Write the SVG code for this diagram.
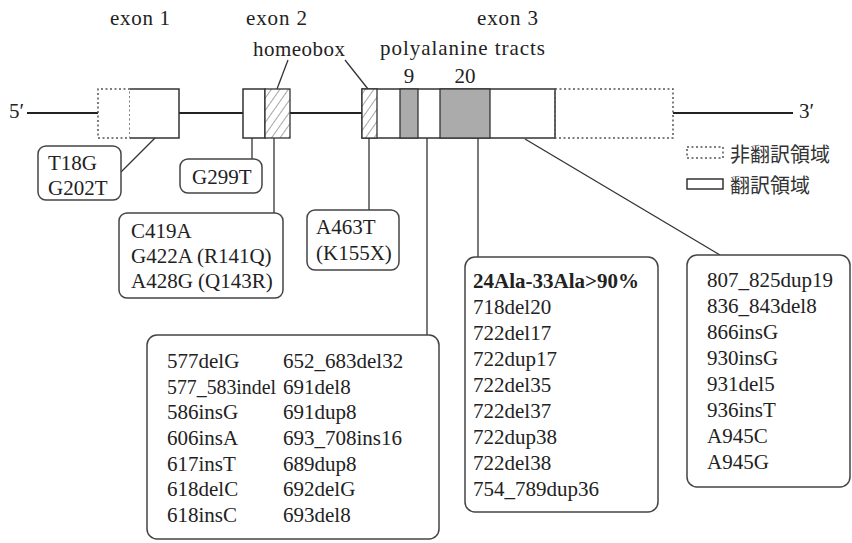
<svg xmlns="http://www.w3.org/2000/svg" width="852" height="543" viewBox="0 0 852 543">
<style>
text{font-family:"Liberation Serif","Noto Sans CJK JP",serif;fill:#222}
.lbl{font-size:21px}
.bt{font-size:21px}
.jp{font-family:"Noto Sans CJK JP",sans-serif;font-size:20px;fill:#333}
.box{fill:#fff;stroke:#444;stroke-width:1.5}
.sol{fill:#fff;stroke:#333;stroke-width:1.5}
.dot{fill:none;stroke:#555;stroke-width:1.5;stroke-dasharray:2 2.5}
.ln{stroke:#333;stroke-width:1.3;fill:none}
.axis{stroke:#222;stroke-width:2.2}
.grey{fill:#ababab;stroke:#333;stroke-width:1.3}
.hat{fill:url(#hatch);stroke:#333;stroke-width:1.3}
</style>
<defs>
<pattern id="hatch" patternUnits="userSpaceOnUse" width="7" height="7" patternTransform="rotate(35)">
<rect width="7" height="7" fill="#fff"/>
<line x1="0" y1="0" x2="0" y2="7" stroke="#777" stroke-width="1.3"/>
</pattern>
</defs>

<g id="gene">
<line class="axis" x1="27" y1="113" x2="98" y2="113"/>
<line class="axis" x1="179" y1="113" x2="243" y2="113"/>
<line class="axis" x1="290" y1="113" x2="362" y2="113"/>
<line class="axis" x1="673" y1="113" x2="793" y2="113"/>
<text class="lbl" x="9" y="118">5′</text>
<text class="lbl" x="799" y="118">3′</text>
</g>

<g id="exon1">
<path class="dot" d="M130 89 H98 V138 H130 V89"/>
<path class="sol" d="M130 89 H179 V138 H130" />
<text class="lbl" x="110" y="25" textLength="60" lengthAdjust="spacing">exon 1</text>
</g>

<g id="exon2">
<rect class="sol" x="243" y="89" width="22" height="49"/>
<rect class="hat" x="265" y="89" width="25" height="49"/>
<text class="lbl" x="246" y="25" textLength="61" lengthAdjust="spacing">exon 2</text>
</g>

<g id="homeobox">
<text class="lbl" x="253" y="56" textLength="92" lengthAdjust="spacing">homeobox</text>
</g>

<g id="exon3">
<rect class="sol" x="362" y="89" width="193" height="49"/>
<rect class="hat" x="362" y="89" width="15" height="49"/>
<rect class="grey" x="400" y="89" width="18" height="49"/>
<rect class="grey" x="440" y="89" width="50" height="49"/>
<path class="dot" d="M555 89 H673 V138 H555 Z"/>
<text class="lbl" x="477" y="25" textLength="61" lengthAdjust="spacing">exon 3</text>
<text class="lbl" x="380" y="55" textLength="165" lengthAdjust="spacing">polyalanine tracts</text>
<text class="lbl" x="409" y="83" text-anchor="middle">9</text>
<text class="lbl" x="465" y="83" text-anchor="middle">20</text>
</g>

<g id="legend">
<rect class="dot" x="687" y="147" width="36" height="11"/>
<text class="jp" x="730" y="162">非翻訳領域</text>
<rect class="sol" x="687" y="179" width="36" height="10"/>
<text class="jp" x="730" y="193">翻訳領域</text>
</g>

<g id="connectors">
<line class="ln" x1="288" y1="60" x2="277" y2="89"/>
<line class="ln" x1="345" y1="60" x2="368" y2="89"/>
<line class="ln" x1="121" y1="172" x2="155" y2="138"/>
<line class="ln" x1="252" y1="138" x2="252" y2="159"/>
<line class="ln" x1="274" y1="138" x2="274" y2="213"/>
<line class="ln" x1="369" y1="138" x2="369" y2="210"/>
<line class="ln" x1="427" y1="138" x2="427" y2="335"/>
<line class="ln" x1="478" y1="138" x2="478" y2="257"/>
<line class="ln" x1="525" y1="139" x2="720" y2="255"/>
</g>

<g id="box-t18g">
<rect class="box" x="38" y="146" width="83" height="54" rx="8"/>
<text class="bt" x="48" y="170">T18G</text>
<text class="bt" x="48" y="195">G202T</text>
</g>

<g id="box-g299t">
<rect class="box" x="180" y="159" width="82" height="34" rx="8"/>
<text class="bt" x="192" y="184">G299T</text>
</g>

<g id="box-c419a">
<rect class="box" x="119" y="213" width="164" height="85" rx="8"/>
<text class="bt" x="131" y="238">C419A</text>
<text class="bt" x="131" y="263">G422A (R141Q)</text>
<text class="bt" x="131" y="288">A428G (Q143R)</text>
</g>

<g id="box-a463t">
<rect class="box" x="307" y="210" width="92" height="60" rx="8"/>
<text class="bt" x="316" y="234">A463T</text>
<text class="bt" x="316" y="260">(K155X)</text>
</g>

<g id="box-577">
<rect class="box" x="147" y="335" width="292" height="204" rx="10"/>
<text class="bt" x="167" y="368">577delG</text>
<text class="bt" x="167" y="394" textLength="109" lengthAdjust="spacingAndGlyphs">577_583indel</text>
<text class="bt" x="167" y="419">586insG</text>
<text class="bt" x="167" y="445">606insA</text>
<text class="bt" x="167" y="471">617insT</text>
<text class="bt" x="167" y="496">618delC</text>
<text class="bt" x="167" y="522">618insC</text>
<text class="bt" x="283" y="368">652_683del32</text>
<text class="bt" x="283" y="394">691del8</text>
<text class="bt" x="283" y="419">691dup8</text>
<text class="bt" x="283" y="445">693_708ins16</text>
<text class="bt" x="283" y="471">689dup8</text>
<text class="bt" x="283" y="496">692delG</text>
<text class="bt" x="283" y="522">693del8</text>
</g>

<g id="box-24ala">
<rect class="box" x="465" y="257" width="193" height="255" rx="10"/>
<text class="bt" x="473" y="288" font-weight="bold">24Ala-33Ala&gt;90%</text>
<text class="bt" x="473" y="314">718del20</text>
<text class="bt" x="473" y="340">722del17</text>
<text class="bt" x="473" y="366">722dup17</text>
<text class="bt" x="473" y="392">722del35</text>
<text class="bt" x="473" y="418">722del37</text>
<text class="bt" x="473" y="444">722dup38</text>
<text class="bt" x="473" y="470">722del38</text>
<text class="bt" x="473" y="496">754_789dup36</text>
</g>

<g id="box-807">
<rect class="box" x="687" y="255" width="163" height="232" rx="10"/>
<text class="bt" x="707" y="287">807_825dup19</text>
<text class="bt" x="707" y="313">836_843del8</text>
<text class="bt" x="707" y="339">866insG</text>
<text class="bt" x="707" y="365">930insG</text>
<text class="bt" x="707" y="391">931del5</text>
<text class="bt" x="707" y="417">936insT</text>
<text class="bt" x="707" y="443">A945C</text>
<text class="bt" x="707" y="469">A945G</text>
</g>
</svg>
